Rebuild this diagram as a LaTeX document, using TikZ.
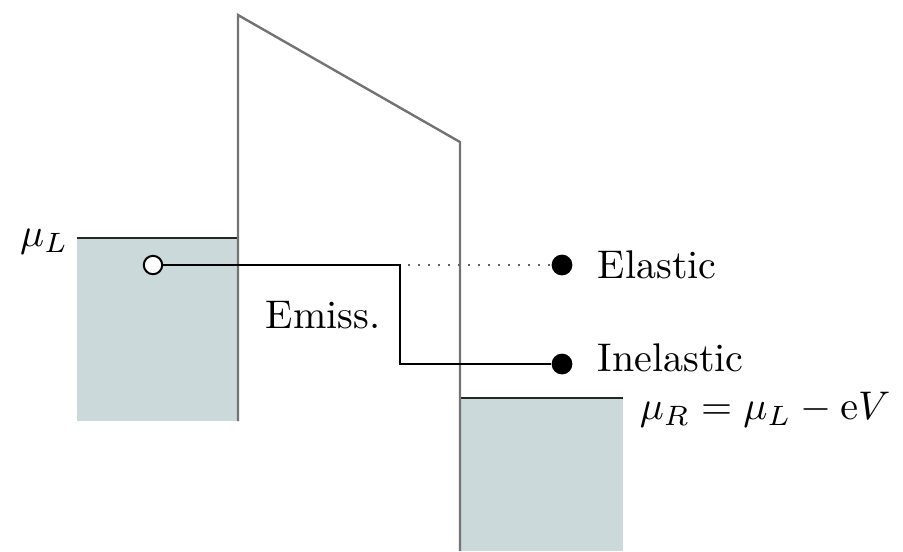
\documentclass[tikz,border=0pt]{standalone}
\usepackage{amsmath}
\usetikzlibrary{positioning}
\definecolor{bandfill}{RGB}{204,217,219}
\begin{document}
\begin{tikzpicture}[x=0.25pt,y=-0.25pt,
	band/.style={fill=bandfill, draw=none},
	wall/.style={draw=black!55, line width=0.6pt},
	level/.style={draw=black!85, line width=0.7pt},
	trace/.style={draw=black, line width=0.65pt},
	opendot/.style={circle, draw=black, fill=white, line width=0.5pt, inner sep=0pt, minimum size=4.6pt},
	fulldot/.style={circle, fill=black, inner sep=0pt, minimum size=5.2pt},
	lbl/.style={inner sep=1pt}]
	\useasboundingbox (0,0) rectangle (903,551);
	% contacts
	\fill[band] (77,238) rectangle (238,421);
	\fill[band] (460,398) rectangle (623,551);
	\coordinate (muL) at (77,238);
	\coordinate (muR) at (623,398);
	\draw[level] (muL) -- (238,238);
	\draw[level] (460,398) -- (muR);
	% barrier
	\draw[wall] (238,421) -- (238,15) -- (460,142) -- (460,551);
	% electron paths
	\node[opendot] (src) at (153,265) {};
	\coordinate (split) at (400,265);
	\coordinate (turn) at (400,364);
	\node[fulldot] (el) at (562,265) {};
	\node[fulldot] (inel) at (562,364) {};
	\draw[trace] (src) -- (split) -- (turn) -- (inel);
	\draw[dotted, black!60, line width=0.5pt, shorten <=2pt] (split) -- (el);
	% labels
	\node[lbl, right=5pt of el] (ellbl) {Elastic};
	\node[lbl, right=5pt of inel, yshift=1.5pt] (inellbl) {Inelastic};
	\node[lbl, left=1pt of muL, yshift=-1pt] (mulbl) {$\mu_L$};
	\node[lbl, anchor=west, xshift=3pt, yshift=-3pt] (murlbl) at (muR) {$\mu_R = \mu_L - \mathrm{e}V$};
	\node[lbl] (emiss) at (323,315) {Emiss.};
\end{tikzpicture}
\end{document}
